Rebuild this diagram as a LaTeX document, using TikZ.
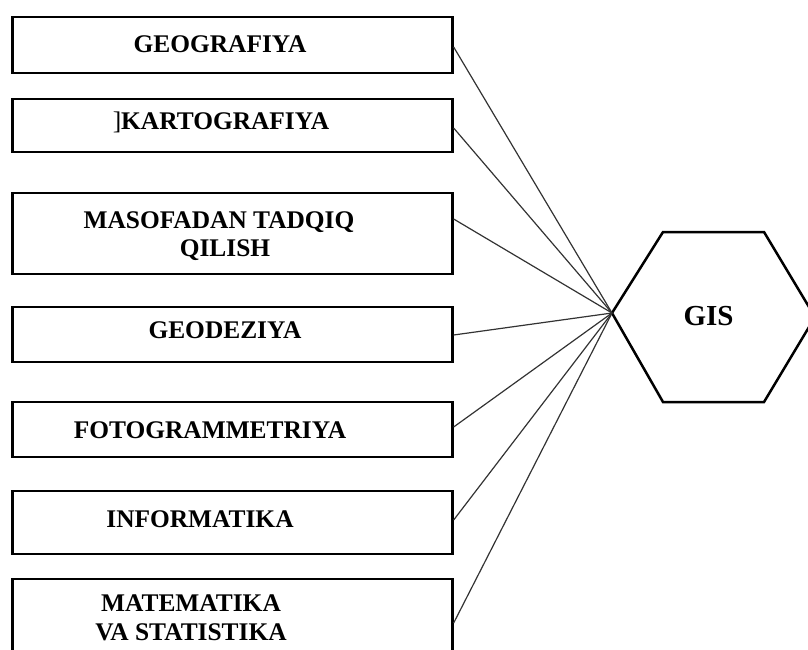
\documentclass[tikz,border=0pt]{standalone}
\usepackage{fontspec}
\setmainfont{Liberation Serif}
\begin{document}
\begin{tikzpicture}[x=1pt,y=-1pt,
  box/.style={draw=black, line width=2.3pt, minimum width=440pt, inner sep=0pt},
  lab/.style={anchor=base, inner sep=0pt, font=\fontsize{25.4}{29}\selectfont\bfseries},
  conn/.style={draw=black!80, line width=1.2pt},
  hexline/.style={draw=black, line width=2.5pt, line join=miter}]
\useasboundingbox (0,0) rectangle (808,650);
\clip (0,0) rectangle (808,650);
% boxes
\node[box, minimum height=56pt] (b1) at (232.5,45) {};
\node[box, minimum height=53pt] (b2) at (232.5,125.5) {};
\node[box, minimum height=81pt] (b3) at (232.5,233.5) {};
\node[box, minimum height=55pt] (b4) at (232.5,334.5) {};
\node[box, minimum height=55pt] (b5) at (232.5,429.5) {};
\node[box, minimum height=63pt] (b6) at (232.5,522.5) {};
\node[box, minimum height=90pt] (b7) at (232.5,624) {};
% labels
\node[lab] (t1) at (220,52.7) {GEOGRAFIYA};
\node[lab] (t2) at (221,129.3) {{\mdseries ]}KARTOGRAFIYA};
\node[lab] (t3a) at (219,228) {MASOFADAN TADQIQ};
\node[lab] (t3b) at (225,256) {QILISH};
\node[lab] (t4) at (225,338) {GEODEZIYA};
\node[lab] (t5) at (210,438) {FOTOGRAMMETRIYA};
\node[lab] (t6) at (200,527) {INFORMATIKA};
\node[lab] (t7a) at (191,611) {MATEMATIKA};
\node[lab] (t7b) at (191,640) {VA STATISTIKA};
% hexagon
\coordinate (hexL) at (612,313);
\draw[hexline] (hexL) -- (663,232) -- (764,232) -- (815,317) -- (764,402) -- (663,402) -- cycle;
\node[lab, font=\fontsize{29}{33}\selectfont\bfseries] (gis) at (708.5,325) {GIS};
% connectors
\draw[conn] ([yshift=-2pt]b1.east) -- (hexL);
\draw[conn] ([yshift=-2.5pt]b2.east) -- (hexL);
\draw[conn] ([yshift=14.5pt]b3.east) -- (hexL);
\draw[conn] ([yshift=-0.5pt]b4.east) -- (hexL);
\draw[conn] ([yshift=2.5pt]b5.east) -- (hexL);
\draw[conn] ([yshift=2.5pt]b6.east) -- (hexL);
\draw[conn] ([yshift=1pt]b7.east) -- (hexL);
\end{tikzpicture}
\end{document}
